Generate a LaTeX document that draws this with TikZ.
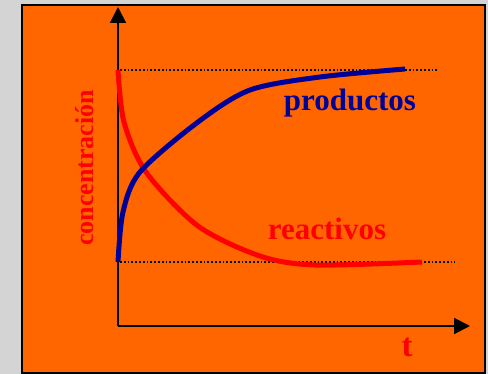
\documentclass[tikz,border=0pt]{standalone}
\usepackage{fontspec}
\setmainfont{Liberation Serif}
\usetikzlibrary{arrows.meta}
\definecolor{fondo}{HTML}{FF6600}
\definecolor{marco}{HTML}{D4D4D4}
\definecolor{azul}{HTML}{000099}
\definecolor{rojo}{HTML}{FF0000}
\tikzset{
  eje/.style={line width=2pt,-{Triangle[length=16pt,width=16pt]}},
  nivel/.style={line width=1.8pt,dash pattern=on 1.8pt off 2pt},
  curva/.style={line width=5pt}
}
\begin{document}
\begin{tikzpicture}[x=1pt,y=-1pt]
\useasboundingbox (0,0) rectangle (488,374);
\fill[marco] (0,0) rectangle (488,374);
\draw[line width=2pt,fill=fondo] (22,5) rectangle (485,373);
\coordinate (o) at (118,326);
\coordinate (ytop) at (118,7);
\coordinate (xend) at (470,326);
\coordinate (a1) at (120,70);
\coordinate (a2) at (438,70);
\coordinate (b1) at (120,262);
\coordinate (b2) at (455,262);
\draw[eje] (o) -- (ytop);
\draw[eje] (o) -- (xend);
\draw[nivel] (a1) -- (a2);
\draw[nivel] (b1) -- (b2);
\draw[rojo,curva] plot[smooth] coordinates {(118,70) (124,122) (146,172) (198,226) (260,256) (315,265) (422,262)};
\draw[azul,curva] plot[smooth] coordinates {(118,262) (123,212) (140,172) (198,122) (250,90) (320,77) (405,69)};
\node[azul,font=\fontsize{31}{31}\selectfont\bfseries] (productos) at (350,103) {productos};
\node[rojo,font=\fontsize{31}{31}\selectfont\bfseries] (reactivos) at (327,229) {reactivos};
\node[rojo,rotate=90,font=\fontsize{26}{26}\selectfont\bfseries] (conc) at (85,168) {concentración};
\node[rojo,font=\fontsize{33}{33}\selectfont\bfseries] (tlabel) at (407,347) {t};
\end{tikzpicture}
\end{document}
